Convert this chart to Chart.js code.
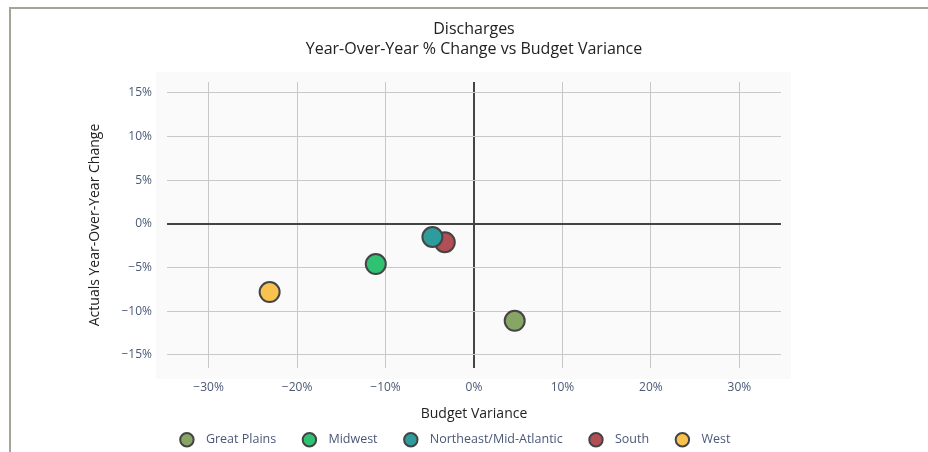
<!DOCTYPE html>
<html>
<head>
<meta charset="utf-8">
<script src="https://cdn.jsdelivr.net/npm/chart.js@4.4.0/dist/chart.umd.min.js"></script>
<style>
html, body { margin: 0; padding: 0; background: #fff; overflow: hidden; }
#frame { position: absolute; left: 9px; top: 7px; width: 960px; height: 480px;
         border-top: 2px solid #a3a596; border-left: 2px solid #a3a596; }
#chart { position: absolute; left: 0; top: 0; }
</style>
</head>
<body>
<div id="frame"></div>
<canvas id="chart" width="928" height="452"></canvas>
<script>
// regions and their values (fractions)
var regions = ["Great Plains", "Midwest", "Northeast/Mid-Atlantic", "South", "West"];
var budgetVariance = [0.046, -0.111, -0.047, -0.033, -0.231];
var yoyChange = [-0.111, -0.046, -0.015, -0.021, -0.078];
var regionColors = ["#87a564", "#2fc273", "#2e9c9c", "#b24e55", "#f8c24e"];

var xTicks = [-0.3, -0.2, -0.1, 0, 0.1, 0.2, 0.3];
var yTicks = [-0.15, -0.1, -0.05, 0, 0.05, 0.1, 0.15];

var tickColor = "#4a5877";
var gridColor = "#c8c8c8";
var zeroColor = "#444444";

function pct(v) {
    var n = Math.round(Math.abs(v) * 100);
    return (v < -0.0001 ? "\u2212" : "") + n + "%";
}

function gridLineColor(ctx) {
    return ctx.tick && Math.abs(ctx.tick.value) < 1e-9 ? zeroColor : gridColor;
}
function gridLineWidth(ctx) {
    return ctx.tick && Math.abs(ctx.tick.value) < 1e-9 ? 2 : 1;
}

var datasets = [];
regions.forEach(function(name, i) {
    datasets.push({
        label: name,
        data: [{ x: budgetVariance[i], y: yoyChange[i] }],
        backgroundColor: regionColors[i],
        borderColor: "#444444",
        borderWidth: 2,
        pointRadius: 10,
        pointHoverRadius: 10,
        pointStyle: "circle"
    });
});

// light panel behind the plot
var plotPanel = {
    id: "plotPanel",
    beforeDraw: function(chart) {
        var a = chart.chartArea;
        var ctx = chart.ctx;
        ctx.save();
        ctx.fillStyle = "#fafafa";
        ctx.fillRect(a.left - 11, a.top - 10, a.right - a.left + 21, a.bottom - a.top + 21);
        ctx.restore();
    }
};

// legend sits a bit left of the plot centre
var legendShift = {
    id: "legendShift",
    afterLayout: function(chart) {
        var lg = chart.legend;
        var dx = 455.5 - (lg.left + lg.right) / 2;
        lg.left += dx;
        lg.right += dx;
    }
};

Chart.defaults.font.family = "'Open Sans', 'Noto Sans', sans-serif";

var ctx = document.getElementById("chart").getContext("2d");
var chart = new Chart(ctx, {
    type: "scatter",
    data: { datasets: datasets },
    plugins: [plotPanel, legendShift],
    options: {
        responsive: false,
        animation: false,
        devicePixelRatio: 1,
        layout: { padding: { left: 80, right: 147, top: 10, bottom: -4 } },
        plugins: {
            title: {
                display: true,
                fullSize: false,
                text: ["Discharges", "Year-Over-Year % Change vs Budget Variance"],
                color: "#222222",
                font: { size: 16, weight: "normal", lineHeight: 1.25 },
                padding: { top: 9, bottom: 23 }
            },
            legend: {
                position: "bottom",
                labels: {
                    usePointStyle: true,
                    pointStyle: "circle",
                    boxWidth: 12.5,
                    boxHeight: 9.5,
                    padding: 27,
                    color: tickColor,
                    font: { size: 12.5 },
                    generateLabels: function(chart) {
                        var items = Chart.defaults.plugins.legend.labels.generateLabels(chart);
                        items.forEach(function(it) { it.text = "  " + it.text; });
                        return items;
                    }
                }
            },
            tooltip: { enabled: false }
        },
        scales: {
            x: {
                type: "linear",
                min: -0.347,
                max: 0.347,
                afterBuildTicks: function(scale) {
                    scale.ticks = xTicks.map(function(v) { return { value: v }; });
                },
                afterFit: function(scale) { scale.height = 38.5; },
                border: { display: false },
                grid: { color: gridLineColor, lineWidth: gridLineWidth, drawTicks: false },
                ticks: { callback: pct, color: tickColor, font: { size: 12 }, padding: 12, maxRotation: 0 },
                title: {
                    display: true,
                    text: "Budget Variance",
                    color: "#222222",
                    font: { size: 14 },
                    padding: { top: 0, bottom: -16 }
                }
            },
            y: {
                type: "linear",
                min: -0.165,
                max: 0.1625,
                afterBuildTicks: function(scale) {
                    scale.ticks = yTicks.map(function(v) { return { value: v }; });
                },
                afterFit: function(scale) { scale.width = 87; },
                border: { display: false },
                grid: { color: gridLineColor, lineWidth: gridLineWidth, drawTicks: false },
                ticks: { callback: pct, color: tickColor, font: { size: 12 }, padding: 15 },
                title: {
                    display: true,
                    text: "Actuals Year-Over-Year Change",
                    color: "#222222",
                    font: { size: 14 },
                    padding: { top: 7, bottom: 0 }
                }
            }
        }
    }
});
</script>
</body>
</html>
